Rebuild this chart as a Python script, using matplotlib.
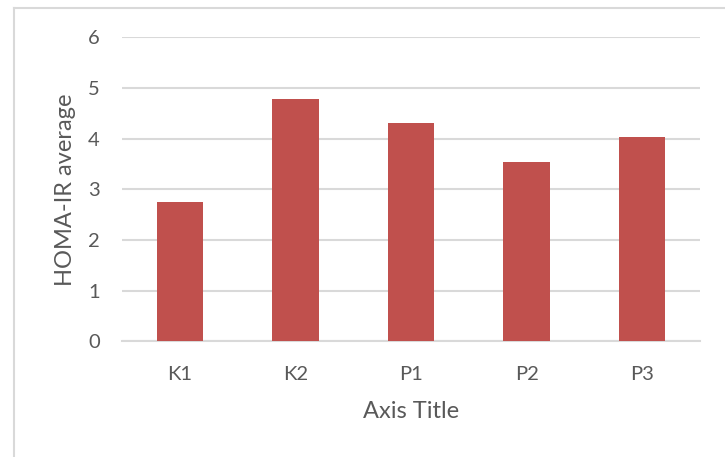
import matplotlib
matplotlib.use("Agg")
import matplotlib.pyplot as plt
from matplotlib.lines import Line2D

categories = ["K1", "K2", "P1", "P2", "P3"]
homa_ir = [2.74, 4.78, 4.31, 3.54, 4.03]
y_ticks = [0, 1, 2, 3, 4, 5, 6]

plt.rcParams["font.family"] = ["Lato", "DejaVu Sans"]
text_color = "#595959"
grid_color = "#D9D9D9"
bar_color = "#C0504D"

fig = plt.figure(figsize=(7.25, 4.57), dpi=100)
W, H = 725, 457
ax = fig.add_axes([122 / W, 1 - 341.3 / H, (700 - 122) / W, (341.3 - 37.3) / H])

x = range(len(categories))
ax.bar(x, homa_ir, width=0.4, color=bar_color, zorder=3)

ax.set_xlim(-0.5, len(categories) - 0.5)
ax.set_ylim(0, 6)
ax.set_yticks(y_ticks)
ax.set_xticks(list(x))
ax.set_xticklabels(categories)

ax.yaxis.grid(True, color=grid_color, linewidth=1.5, zorder=0)
ax.set_axisbelow(True)
for side in ["top", "right", "left"]:
    ax.spines[side].set_visible(False)
ax.spines["bottom"].set_color(grid_color)
ax.spines["bottom"].set_linewidth(1.5)

ax.tick_params(axis="both", length=0, colors=text_color, labelsize=14.5)
ax.tick_params(axis="x", pad=18)
ax.tick_params(axis="y", pad=16)

ax.set_ylabel("HOMA-IR average", fontsize=17, color=text_color, labelpad=9)
ax.set_xlabel("Axis Title", fontsize=17, color=text_color, labelpad=13)

# chart frame (left and top edges)
fig.add_artist(Line2D([14 / W, 14 / W], [0, 1 - 8 / H], transform=fig.transFigure,
                      color=grid_color, linewidth=1.5))
fig.add_artist(Line2D([14 / W, 1], [1 - 8 / H, 1 - 8 / H], transform=fig.transFigure,
                      color=grid_color, linewidth=1.5))

fig.savefig("out.png", dpi=100)
